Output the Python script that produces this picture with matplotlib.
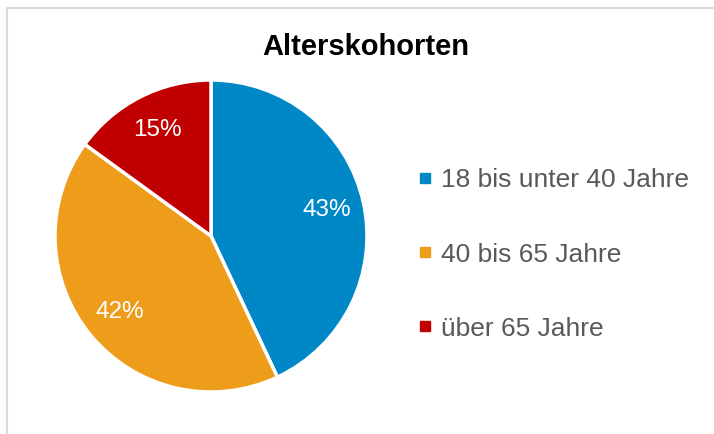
import matplotlib.pyplot as plt
from matplotlib.lines import Line2D
from matplotlib.patches import Rectangle

plt.rcParams['font.family'] = ['Liberation Sans', 'DejaVu Sans']

# data
labels = ['18 bis unter 40 Jahre', '40 bis 65 Jahre', 'über 65 Jahre']
values = [43, 42, 15]
colors = ['#0088C6', '#EE9D1B', '#C00000']

W, H = 714, 434
fig = plt.figure(figsize=(W / 100, H / 100), dpi=100)

# light frame around the chart area (right and bottom edges run off the image)
fig.patches.append(Rectangle((7 / W, -0.1), 1.1, 1.1 - 8 / H, transform=fig.transFigure,
                             fill=False, edgecolor='#D9D9D9', linewidth=1.5))

# pie axes: center (211, 236) px, radius 156 px
cx, cy, r = 211, 236, 156
ax = fig.add_axes([(cx - r) / W, (H - cy - r) / H, 2 * r / W, 2 * r / H])
wedges, texts, autotexts = ax.pie(values, colors=colors, startangle=90, counterclock=False,
                                  autopct='%d%%', pctdistance=0.76, radius=1,
                                  wedgeprops=dict(edgecolor='white', linewidth=2.5),
                                  textprops=dict(color='white', fontsize=17.5))
ax.set_xlim(-1, 1)
ax.set_ylim(-1, 1)
ax.axis('off')

fig.text(366 / W, 1 - 47 / H, 'Alterskohorten', ha='center', va='center',
         fontsize=21, fontweight='bold', color='black')

handles = [Line2D([], [], marker='s', linestyle='none', markersize=7.2,
                  markerfacecolor=c, markeredgecolor=c) for c in colors]
fig.legend(handles, labels, loc='center left', bbox_to_anchor=(404 / W, 1 - 254.5 / H),
           frameon=False, fontsize=19, labelcolor='#595959', handlelength=0.6,
           handletextpad=0.3, labelspacing=1.9, borderpad=0)

fig.savefig('out.png', dpi=100)
